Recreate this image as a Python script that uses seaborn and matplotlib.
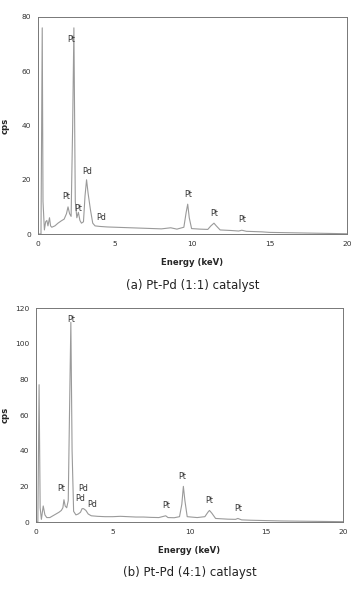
import pandas as pd
import numpy as np
import seaborn as sns
import matplotlib.pyplot as plt
import matplotlib.transforms as mtransforms


energy_a = [0.0, 0.2, 0.28, 0.33, 0.42, 0.5, 0.58, 0.65, 0.75, 0.82, 0.9, 1.1, 1.3, 1.5, 1.7,
            1.85, 1.95, 2.05, 2.15, 2.25, 2.33, 2.42, 2.52, 2.62, 2.72, 2.82, 2.95, 3.05, 3.15,
            3.25, 3.4, 3.55, 3.7, 4.0, 4.5, 5.0, 5.5, 6.0, 6.5, 7.0, 7.5, 8.0, 8.6, 9.0, 9.45,
            9.6, 9.7, 9.8, 9.95, 10.5, 11.0, 11.2, 11.4, 11.55, 11.8, 12.5, 13.0, 13.2, 13.5,
            14.0, 14.5, 15.0, 16.0, 17.0, 18.0, 19.0, 20.0]
cps_a = [0.0, 0.0, 76.0, 12.0, 1.5, 4.5, 5.0, 3.0, 6.0, 3.0, 2.5, 3.0, 4.0, 4.8, 5.5,
         7.5, 10.0, 7.5, 6.5, 40.0, 76.0, 12.0, 6.0, 8.0, 5.0, 4.0, 4.5, 14.0, 20.0,
         15.0, 9.0, 4.0, 3.0, 2.8, 2.6, 2.5, 2.4, 2.3, 2.2, 2.1, 2.0, 1.9, 2.3, 1.8, 2.5,
         8.0, 11.0, 6.0, 2.0, 1.8, 1.7, 3.0, 4.0, 3.0, 1.5, 1.3, 1.1, 1.4, 1.0,
         0.9, 0.8, 0.6, 0.5, 0.4, 0.3, 0.2, 0.1]

# Spektrum (b) Pt-Pd (4:1)
energy_b = [0.0, 0.12, 0.2, 0.27, 0.35, 0.47, 0.58, 0.7, 0.9, 1.1, 1.3, 1.5, 1.65, 1.75,
            1.82, 1.9, 2.0, 2.1, 2.18, 2.27, 2.35, 2.45, 2.6, 2.75, 2.9, 3.0, 3.1, 3.25, 3.4,
            3.6, 4.0, 4.5, 5.0, 5.5, 6.0, 6.5, 7.0, 7.5, 8.0, 8.45, 8.6, 9.0, 9.35, 9.5, 9.6,
            9.7, 9.85, 10.5, 11.0, 11.2, 11.3, 11.45, 11.7, 12.5, 13.0, 13.15, 13.4, 14.0,
            15.0, 16.0, 17.0, 18.0, 19.0, 20.0]
cps_b = [0.0, 0.0, 77.0, 8.0, 1.5, 9.0, 4.0, 2.5, 2.5, 3.5, 4.5, 5.5, 6.5, 8.0,
         12.5, 9.0, 8.0, 12.0, 60.0, 112.0, 40.0, 6.0, 4.0, 4.5, 5.5, 7.5, 7.5, 6.5, 4.5,
         3.5, 3.2, 3.0, 3.0, 3.2, 3.0, 2.8, 2.8, 2.6, 2.5, 3.5, 2.5, 2.4, 3.0, 10.0, 20.0,
         12.0, 3.0, 2.5, 3.0, 5.5, 6.5, 5.0, 2.0, 1.6, 1.5, 2.0, 1.2, 1.0,
         0.8, 0.6, 0.5, 0.4, 0.3, 0.2]

# Beschriftungen der Peaks (Element, Energie, cps)
labels_a = [("Pt", 2.15, 70.0), ("Pt", 1.85, 12.0), ("Pt", 2.6, 7.8), ("Pd", 3.2, 21.5),
            ("Pd", 4.1, 4.6), ("Pt", 9.75, 13.0), ("Pt", 11.4, 6.0), ("Pt", 13.25, 3.6)]
labels_b = [("Pt", 2.28, 111.0), ("Pt", 1.67, 16.0), ("Pd", 3.08, 16.5), ("Pd", 2.87, 10.5),
            ("Pd", 3.63, 7.3), ("Pt", 8.45, 6.5), ("Pt", 9.5, 23.0), ("Pt", 11.27, 9.8),
            ("Pt", 13.14, 5.0)]

captions = ["(a) Pt-Pd (1:1) catalyst", "(b) Pt-Pd (4:1) catlayst"]
y_limits = [80, 120]


def draw_spectrum(fig, ax, energy, cps, labels, ymax, caption):
    df = pd.DataFrame({"energy": energy, "cps": cps})
    sns.lineplot(data=df, x="energy", y="cps", ax=ax, color="#9a9a9a", linewidth=0.8)
    for name, x, y in labels:
        ax.text(x, y, name, fontsize=5.8, ha="center", va="bottom", color="#333333")
    ax.set_xlim(0, 20)
    ax.set_ylim(0, ymax)
    ax.set_xticks([0, 5, 10, 15, 20])
    ax.set_yticks(np.arange(0, ymax + 1, 20))
    ax.set_xlabel("Energy (keV)", fontsize=6.1, fontweight="bold", labelpad=8)
    ax.set_ylabel("cps", fontsize=6.1, fontweight="bold")
    trans = mtransforms.blended_transform_factory(fig.transFigure, ax.transAxes)
    ax.yaxis.set_label_coords(10 / 351, 0.5, transform=trans)
    ax.tick_params(labelsize=5.4, length=2, width=0.5, color="#555555", pad=3, labelcolor="#333333")
    for s in ax.spines.values():
        s.set_color("#777777")
        s.set_linewidth(0.7)
    ax.text(0.5, -0.235, caption, transform=ax.transAxes, ha="center", va="center",
            fontsize=8.5, color="#222222")


sns.set_style("white")
plt.rcParams["font.family"] = ["DejaVu Sans"]

fig = plt.figure(figsize=(3.51, 5.92), dpi=100)
ax1 = fig.add_axes([0.108, 0.6047, 0.880, 0.3666])
ax2 = fig.add_axes([0.1026, 0.1182, 0.8746, 0.3615])

draw_spectrum(fig, ax1, energy_a, cps_a, labels_a, y_limits[0], captions[0])
draw_spectrum(fig, ax2, energy_b, cps_b, labels_b, y_limits[1], captions[1])

fig.savefig("out.png", dpi=100)
